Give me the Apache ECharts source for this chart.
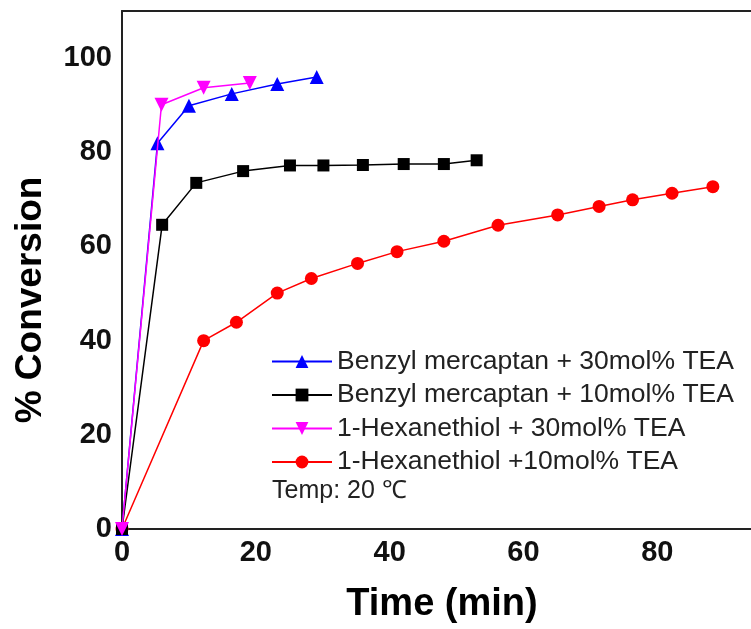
<!DOCTYPE html>
<html>
<head>
<meta charset="utf-8">
<script src="https://cdn.jsdelivr.net/npm/echarts@6/dist/echarts.min.js"></script>
<style>
html,body{margin:0;padding:0;background:#fff;}
#chart{width:751px;height:629px;}
</style>
</head>
<body>
<div id="chart"></div>
<script>
// Data
const seriesNames = [
  'Benzyl mercaptan + 30mol% TEA',
  'Benzyl mercaptan + 10mol% TEA',
  '1-Hexanethiol + 30mol% TEA',
  '1-Hexanethiol +10mol% TEA'
];
const benzyl30Time = [0, 5.3, 10.0, 16.4, 23.2, 29.1];
const benzyl30Conv = [0, 81.9, 89.9, 92.4, 94.5, 96.0];
const benzyl10Time = [0, 6.0, 11.1, 18.1, 25.1, 30.1, 36.0, 42.1, 48.1, 53.0];
const benzyl10Conv = [0, 64.6, 73.5, 76.0, 77.2, 77.2, 77.3, 77.5, 77.5, 78.3];
const hexane30Time = [0, 5.9, 12.2, 19.1];
const hexane30Conv = [0, 90.1, 93.7, 94.7];
const hexane10Time = [0, 12.2, 17.1, 23.2, 28.3, 35.2, 41.1, 48.1, 56.2, 65.1, 71.3, 76.3, 82.2, 88.3];
const hexane10Conv = [0, 40.0, 43.9, 50.1, 53.2, 56.4, 58.9, 61.1, 64.5, 66.7, 68.5, 69.9, 71.3, 72.7];
const xTicks = [0, 20, 40, 60, 80];
const yTicks = [0, 20, 40, 60, 80, 100];
const tempNote = 'Temp: 20 \u2103';

function pairs(xs, ys) { return xs.map((x, i) => [x, ys[i]]); }

const chart = echarts.init(document.getElementById('chart'), null, {renderer: 'canvas'});
const fontFam = 'Arial, "Liberation Sans", sans-serif';
const axisLineStyle = {color: '#222', width: 2};

const option = {
  backgroundColor: '#fff',
  animation: false,
  grid: {left: 122, top: 11, right: 0, bottom: 100, containLabel: false},
  legend: {
    orient: 'vertical',
    left: 266,
    top: 343,
    itemWidth: 60,
    itemHeight: 16,
    itemGap: 6.5,
    data: seriesNames,
    textStyle: {fontFamily: fontFam, fontSize: 26.5, color: '#222', lineHeight: 27}
  },
  xAxis: [{
    type: 'value', min: 0, max: 94, interval: 20,
    axisLine: {show: true, onZero: false, lineStyle: axisLineStyle},
    axisTick: {show: false},
    splitLine: {show: false},
    axisLabel: {
      margin: 9, showMaxLabel: false,
      fontFamily: fontFam, fontSize: 29, fontWeight: 'bold', color: '#111',
      formatter: v => (xTicks.indexOf(v) >= 0 ? String(v) : '')
    }
  }, {
    type: 'value', position: 'top', min: 0, max: 94,
    axisLine: {show: true, onZero: false, lineStyle: axisLineStyle},
    axisTick: {show: false}, axisLabel: {show: false}, splitLine: {show: false}
  }],
  yAxis: {
    type: 'value', min: 0, max: 110, interval: 20,
    axisLine: {show: true, onZero: false, lineStyle: axisLineStyle},
    axisTick: {show: false},
    splitLine: {show: false},
    axisLabel: {
      margin: 10, showMaxLabel: false,
      fontFamily: fontFam, fontSize: 29, fontWeight: 'bold', color: '#111',
      formatter: v => (yTicks.indexOf(v) >= 0 ? String(v) : '')
    }
  },
  graphic: [
    {type: 'text', left: 272, top: 479,
     style: {text: tempNote, font: '25px ' + fontFam, fill: '#222'}},
    {type: 'text', x: 442, y: 605,
     style: {text: 'Time (min)', font: 'bold 38px ' + fontFam, fill: '#000', align: 'center', verticalAlign: 'middle'}},
    {type: 'text', x: 31, y: 300, rotation: Math.PI / 2,
     style: {text: '% Conversion', font: 'bold 37px ' + fontFam, fill: '#000', align: 'center', verticalAlign: 'middle'}}
  ],
  series: [
    {name: seriesNames[0], type: 'line', data: pairs(benzyl30Time, benzyl30Conv),
     symbol: 'triangle', symbolSize: 14, color: '#0000ff', lineStyle: {width: 1.5}, z: 3},
    {name: seriesNames[1], type: 'line', data: pairs(benzyl10Time, benzyl10Conv),
     symbol: 'rect', symbolSize: 12, color: '#000000', lineStyle: {width: 1.5}, z: 3},
    {name: seriesNames[2], type: 'line', data: pairs(hexane30Time, hexane30Conv),
     symbol: 'triangle', symbolRotate: 180, symbolSize: 14, color: '#ff00ff', lineStyle: {width: 1.5}, z: 4},
    {name: seriesNames[3], type: 'line', data: pairs(hexane10Time, hexane10Conv),
     symbol: 'circle', symbolSize: 13, color: '#ff0000', lineStyle: {width: 1.5}, z: 2}
  ]
};
chart.setOption(option);
</script>
</body>
</html>
